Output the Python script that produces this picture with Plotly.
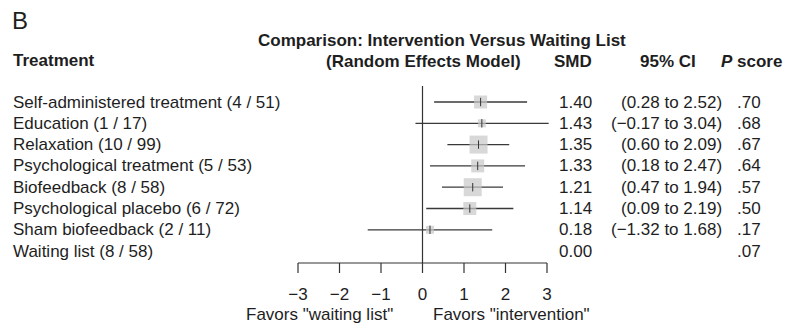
import plotly.graph_objects as go

treatments = ["Self-administered treatment (4 / 51)", "Education (1 / 17)", "Relaxation (10 / 99)",
              "Psychological treatment (5 / 53)", "Biofeedback (8 / 58)", "Psychological placebo (6 / 72)",
              "Sham biofeedback (2 / 11)", "Waiting list (8 / 58)"]
smd = [1.40, 1.43, 1.35, 1.33, 1.21, 1.14, 0.18, 0.00]
lower = [0.28, -0.17, 0.60, 0.18, 0.47, 0.09, -1.32, None]
upper = [2.52, 3.04, 2.09, 2.47, 1.94, 2.19, 1.68, None]
pscore = [".70", ".68", ".67", ".64", ".57", ".50", ".17", ".07"]
box_size = [13, 8, 18, 13, 18, 13, 8, 0]
tick_vals = [-3, -2, -1, 0, 1, 2, 3]
tick_text = ["\u22123", "\u22122", "\u22121", "0", "1", "2", "3"]

W, H = 785, 324
FONT = "Liberation Sans, Arial, Helvetica, sans-serif"
FS = 17
TXT = "#1e1e1e"
px = lambda v: v / W

rows = list(range(len(treatments)))
fig = go.Figure()

# CI lines
xs, ys = [], []
for i in rows:
    if lower[i] is not None:
        xs += [lower[i], upper[i], None]
        ys += [i, i, None]
fig.add_trace(go.Scatter(x=xs, y=ys, mode="lines", line=dict(color="#3a3a3a", width=1.3),
                         hoverinfo="skip", showlegend=False, cliponaxis=False))
# boxes
bi = [i for i in rows if box_size[i] > 0]
fig.add_trace(go.Scatter(x=[smd[i] for i in bi], y=bi, mode="markers",
                         marker=dict(symbol="square", size=[box_size[i] for i in bi], color="#c8c8c8",
                                     line=dict(width=0)),
                         showlegend=False, cliponaxis=False))
fig.add_trace(go.Scatter(x=[smd[i] for i in bi], y=bi, mode="markers",
                         marker=dict(symbol="line-ns", size=6, line=dict(color="#333333", width=1)),
                         showlegend=False, cliponaxis=False))

y_top, y_bot = 88, 263
row0, row_step = 102, 21.3
fig.update_layout(
    width=W, height=H, margin=dict(l=0, r=0, t=0, b=0),
    paper_bgcolor="white", plot_bgcolor="white",
    font=dict(family=FONT, size=FS, color=TXT),
    xaxis=dict(domain=[px(298 - 8.3), px(547 + 8.3)], range=[-3.2, 3.2], showgrid=False, zeroline=False,
               showline=False, tickvals=tick_vals, ticktext=tick_text, ticks="", ticklabelstandoff=19,
               tickfont=dict(size=FS, family=FONT, color=TXT)),
    yaxis=dict(domain=[(H - y_bot) / H, (H - y_top) / H],
               range=[(y_bot - row0) / row_step, (y_top - row0) / row_step], visible=False),
    showlegend=False,
)

# axis line and ticks, zero line
fig.add_shape(type="line", xref="x", yref="paper", x0=tick_vals[0], x1=tick_vals[-1],
              y0=(H - y_bot) / H, y1=(H - y_bot) / H, line=dict(color="#333333", width=1.2))
for t in tick_vals:
    fig.add_shape(type="line", xref="x", yref="paper", x0=t, x1=t,
                  y0=(H - y_bot) / H, y1=(H - y_bot - 10) / H, line=dict(color="#333333", width=1.2))
fig.add_shape(type="line", xref="x", yref="paper", x0=0, x1=0,
              y0=(H - y_bot) / H, y1=(H - y_top + 2) / H, line=dict(color="#333333", width=1.2))

def ann(x, y, text, xanchor="left", size=FS, bold=False, yref="paper"):
    fig.add_annotation(x=x, y=y, xref="paper", yref=yref, text=f"<b>{text}</b>" if bold else text,
                       showarrow=False, xanchor=xanchor, yanchor="middle",
                       font=dict(size=size, family=FONT, color=TXT))

ann(px(10), 1 - 21 / H, "B", size=24)
ann(px(442), 1 - 40 / H, "Comparison: Intervention Versus Waiting List", xanchor="center", bold=True)
ann(px(11), 1 - 61 / H, "Treatment", bold=True)
ann(px(523), 1 - 62 / H, "(Random Effects Model)", xanchor="right", bold=True)
ann(px(594), 1 - 62 / H, "SMD", xanchor="right", bold=True)
ann(px(698), 1 - 62 / H, "95% CI", xanchor="right", bold=True)
ann(px(784), 1 - 62 / H, "<i>P</i> score", xanchor="right", bold=True)

for i in rows:
    ann(px(11), i, treatments[i], yref="y")
    ann(px(594), i, f"{smd[i]:.2f}", xanchor="right", yref="y")
    if lower[i] is not None:
        lo = f"{lower[i]:.2f}".replace("-", "\u2212")
        hi = f"{upper[i]:.2f}".replace("-", "\u2212")
        ann(px(724), i, f"({lo} to {hi})", xanchor="right", yref="y")
    ann(px(763), i, pscore[i], xanchor="right", yref="y")

ann(px(319), 1 - 314.5 / H, "Favors \"waiting list\"", xanchor="center")
ann(px(511), 1 - 314.5 / H, "Favors \"intervention\"", xanchor="center")

fig.write_html("out.html")
